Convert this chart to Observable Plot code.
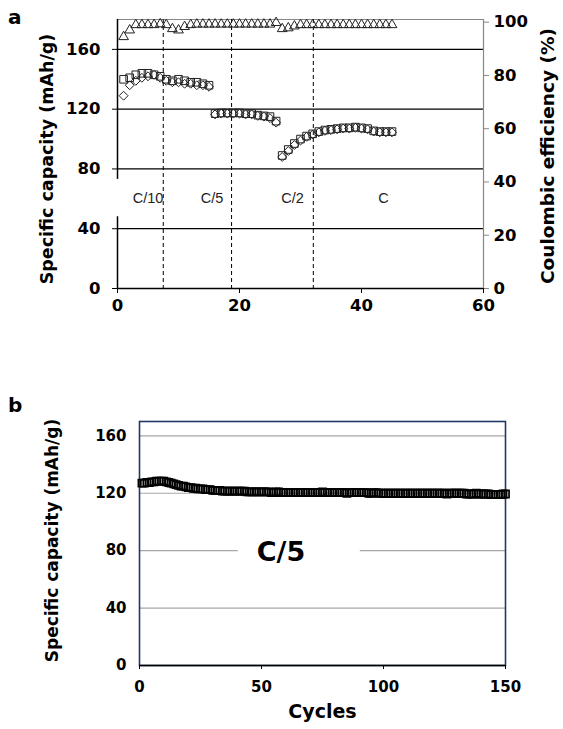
<!DOCTYPE html>
<html><head><meta charset="utf-8">
<script src="https://cdn.jsdelivr.net/npm/d3@7"></script>
<script src="https://cdn.jsdelivr.net/npm/@observablehq/plot@0.6"></script>
<style>
body{margin:0;background:#fff;}
#wrap{position:relative;width:563px;height:729px;overflow:hidden;}
.chart{position:absolute;left:0;}
.panel{position:absolute;left:8px;font-family:"DejaVu Sans";font-weight:bold;font-size:20px;line-height:1;}
</style></head><body>
<div id="wrap">
  <div id="chartA" class="chart" style="top:0"></div>
  <div id="chartB" class="chart" style="top:390px"></div>
  <span class="panel" style="top:7px">a</span>
  <span class="panel" style="top:395px">b</span>
</div>
<script>
// ---------- Panel a data ----------
const cyclesA = [1,2,3,4,5,6,7,8,9,10,11,12,13,14,15,16,17,18,19,20,21,22,23,24,25,26,27,28,29,30,31,32,33,34,35,36,37,38,39,40,41,42,43,44,45];
const dischargeA = [140,141,143,144,144,143,142,140,139,140,139,138,138,137,136,
  117,117.5,117.5,117.5,117.5,117,117,116,115.5,115,112,
  89,93,97,100,102,103.5,105,106,106.5,107,107.5,107.5,108,107.5,107,105.5,105,105,105];
const chargeA = [129,136,139,141,142,143,141,139,138,138,137,137,136,136,135,
  116.5,117,117,117,117,116.5,116.5,115.5,115,114,111,
  88,92,96,99,101.5,103,104.5,105.5,106,106.5,107,107,107.5,107,106.5,105,104.5,104.5,104.5];
const coulombicA = [94.5,97,99,99,99,99,99.3,99,97.5,97,98.3,99,
  99.2,99.2,99.2,99.2,99.2,99.2,99.2,99.2,99.2,99.2,99.2,99.2,99.2,99.8,
  97.5,97.8,98.5,99,99,99,99,99,99,99,99,99,99,99,99,99,99,99,99];
const rateLabels = ["C/10","C/5","C/2","C"];
const rateLabelCycles = [5,15.5,28.7,43.6];
const rateLabelCapacity = 60;
const rateBoundaries = [7.5,18.7,32.1];
const cycleDomainA = [0,60];
const capDomainA = [0,180];
const ceDomain = [0,101];
const cycleTicksA = [0,20,40,60];
const capTicks = [0,40,80,120,160];
const ceTicks = [0,20,40,60,80,100];
const capGridA = [40,80,120,160];
const leftAxisSegments = [{y1:0,y2:48},{y1:73,y2:180}];

// ---------- Panel b data ----------
const capacityB = [
  127,127,127.5,127.5,128,128,128.5,128.5,128.5,128.5,
  128,127.5,127,126.5,126,125.5,125,125,124.5,124,
  124,123.5,123.5,123,123,123,122.5,122.5,122.5,122,
  122,122,122,121.5,121.5,121.5,121.5,121.5,121.5,121.5,
  121.5,121.5,121.5,121,121,121,121,121,121,121,
  121,121,121,120.5,120.5,121,121,120.5,120.5,120.5,
  120.5,120.5,120.5,120.5,120.5,120.5,120.5,120.5,120.5,120.5,
  120.5,120.5,120.5,120.5,121,120.5,120.5,120.5,120.5,120.5,
  120.5,120.5,120.5,120.5,120,120.5,120.5,120.5,120.5,120.5,
  120.5,120.5,120.5,120,120,120.5,120.5,120,120,120,
  120,120,120,120,120,120,120,120,120,120,
  120,120,120,120,120,120,120,120,120,120,
  120,120,120,120,120,119.5,120,120,120,120,
  120,120,120,119.5,119.5,119.5,119.5,120,119.5,119.5,
  119.5,119.5,119.5,119,119,119,119,119,119.5,119.5];
const cycleDomainB = [0,150];
const capDomainB = [0,170];
const cycleTicksB = [0,50,100,150];
const capGridB = [40,80,120,160];
const rateLabelB = "C/5";
const rateLabelBPos = {x:58, y:79};
const rateLabelBBox = [{x1:40.5,x2:90.5,y1:74,y2:86}];

const k = capDomainA[1] / ceDomain[1]; // maps coulombic % onto the capacity scale

const boldFont = "DejaVu Sans";

const chartA = Plot.plot({
  width:563, height:330,
  marginLeft:117, marginRight:80, marginTop:19, marginBottom:42,
  style:{fontFamily:boldFont, fontWeight:"bold", fontSize:"16px", background:"white", color:"black", overflow:"visible"},
  x:{domain:cycleDomainA},
  y:{domain:capDomainA},
  marks:[
    Plot.ruleY(capGridA, {stroke:"black", strokeWidth:1.3}),
    Plot.ruleY([capDomainA[1]], {stroke:"#888", strokeWidth:1.2}),
    Plot.ruleX([cycleDomainA[1]], {stroke:"#888", strokeWidth:1.2}),
    Plot.ruleX(rateBoundaries, {stroke:"black", strokeWidth:1, strokeDasharray:"4,3"}),
    Plot.ruleX(leftAxisSegments, {x:()=>cycleDomainA[0], y1:"y1", y2:"y2", stroke:"black", strokeWidth:1.5}),
    Plot.ruleY([0], {stroke:"black", strokeWidth:1.5}),
    Plot.text(rateLabels, {text:d=>d, x:(d,i)=>rateLabelCycles[i], y:()=>rateLabelCapacity,
      fontFamily:"Liberation Sans", fontWeight:"normal", fontSize:14.5, fill:"#222"}),
    Plot.dot(cyclesA, {x:d=>d, y:(d,i)=>coulombicA[i]*k, symbol:"triangle", r:3.6, stroke:"#222", fill:"none", strokeWidth:1}),
    Plot.dot(cyclesA, {x:d=>d, y:(d,i)=>chargeA[i], symbol:"diamond2", r:4, stroke:"#222", fill:"none", strokeWidth:1}),
    Plot.dot(cyclesA, {x:d=>d, y:(d,i)=>dischargeA[i], symbol:"square", r:4.3, stroke:"#222", fill:"none", strokeWidth:1}),
    Plot.axisY({ticks:capTicks, anchor:"left", tickSize:5, tickPadding:12, fontSize:16.5, label:null, stroke:"black"}),
    Plot.axisY({ticks:ceTicks.map(v=>v*k), anchor:"right", tickSize:5, tickPadding:5, fontSize:16.5, label:null,
      tickFormat:d=>Math.round(d/k), stroke:"#888", fill:"black"}),
    Plot.axisX({ticks:cycleTicksA, tickSize:5, tickPadding:6, fontSize:16.5, label:null, stroke:"black"}),
    Plot.text(["Specific capacity (mAh/g)"], {text:d=>d, frameAnchor:"left", textAnchor:"middle", rotate:-90, dx:-70, dy:5, fontSize:17.5}),
    Plot.text(["Coulombic efficiency (%)"], {text:d=>d, frameAnchor:"right", textAnchor:"middle", rotate:-90, dx:65, dy:2, fontSize:18.5})
  ]
});
document.getElementById("chartA").append(chartA);

const chartB = Plot.plot({
  width:563, height:339,
  marginLeft:139, marginRight:58, marginTop:31, marginBottom:64,
  style:{fontFamily:boldFont, fontWeight:"bold", fontSize:"15px", background:"white", color:"black", overflow:"visible"},
  x:{domain:cycleDomainB},
  y:{domain:capDomainB},
  marks:[
    Plot.ruleY(capGridB, {stroke:"#a6a6a6", strokeWidth:1.2}),
    Plot.rect(rateLabelBBox, {x1:"x1", x2:"x2", y1:"y1", y2:"y2", fill:"white"}),
    Plot.frame({stroke:"#1f3864", strokeWidth:1.6}),
    Plot.ruleY([0], {stroke:"black", strokeWidth:1.6}),
    Plot.dot(capacityB, {x:(d,i)=>i+1, y:d=>d, symbol:"square", r:4, stroke:"black", fill:"none", strokeWidth:1.7}),
    Plot.text([rateLabelB], {text:d=>d, x:()=>rateLabelBPos.x, y:()=>rateLabelBPos.y, fontSize:27}),
    Plot.axisY({ticks:capTicks, tickSize:0, tickPadding:13, fontSize:15, label:null}),
    Plot.axisX({ticks:cycleTicksB, tickSize:4, tickPadding:12, fontSize:15, label:null, stroke:"black"}),
    Plot.text(["Cycles"], {text:d=>d, frameAnchor:"bottom", dy:52, fontSize:19}),
    Plot.text(["Specific capacity (mAh/g)"], {text:d=>d, frameAnchor:"left", textAnchor:"middle", rotate:-90, dx:-87, dy:-3, fontSize:17})
  ]
});
document.getElementById("chartB").append(chartB);
</script>
</body></html>
